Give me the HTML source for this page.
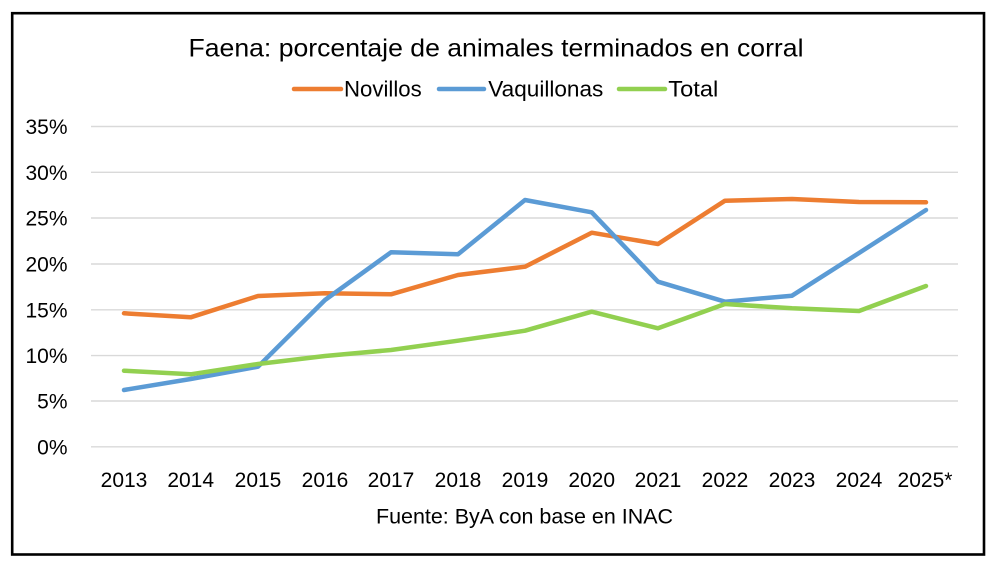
<!DOCTYPE html>
<html>
<head>
<meta charset="utf-8">
<style>
html,body{margin:0;padding:0;background:#fff;}
svg{display:block;}
text{font-family:"Liberation Sans",sans-serif;fill:#000;}
</style>
</head>
<body>
<svg width="1000" height="568" viewBox="0 0 1000 568" xmlns="http://www.w3.org/2000/svg">
<rect x="0" y="0" width="1000" height="568" fill="#fff"/>
<rect x="12.2" y="13.2" width="971.8" height="541.3" fill="#fff" stroke="#000" stroke-width="2.6"/>

<text x="496" y="56.7" font-size="25" text-anchor="middle" textLength="615" lengthAdjust="spacingAndGlyphs">Faena: porcentaje de animales terminados en corral</text>

<g stroke-width="4.5" stroke-linecap="round">
<line x1="294" y1="89" x2="341" y2="89" stroke="#ED7D31"/>
<line x1="439" y1="89" x2="484" y2="89" stroke="#5B9BD5"/>
<line x1="619" y1="89" x2="665" y2="89" stroke="#92D050"/>
</g>
<text x="344" y="96.7" font-size="22" textLength="77.7" lengthAdjust="spacingAndGlyphs">Novillos</text>
<text x="488.3" y="96.7" font-size="22" textLength="115" lengthAdjust="spacingAndGlyphs">Vaquillonas</text>
<text x="668.3" y="96.7" font-size="22" textLength="50" lengthAdjust="spacingAndGlyphs">Total</text>

<g stroke="#D9D9D9" stroke-width="1.4">
<line x1="91" y1="126.5" x2="958" y2="126.5"/>
<line x1="91" y1="172.3" x2="958" y2="172.3"/>
<line x1="91" y1="218" x2="958" y2="218"/>
<line x1="91" y1="264" x2="958" y2="264"/>
<line x1="91" y1="309.8" x2="958" y2="309.8"/>
<line x1="91" y1="355.6" x2="958" y2="355.6"/>
<line x1="91" y1="401" x2="958" y2="401"/>
<line x1="91" y1="446.8" x2="958" y2="446.8"/>
</g>

<g font-size="21" text-anchor="end">
<text x="67.5" y="134">35%</text>
<text x="67.5" y="179.8">30%</text>
<text x="67.5" y="225.5">25%</text>
<text x="67.5" y="271.5">20%</text>
<text x="67.5" y="317.3">15%</text>
<text x="67.5" y="363.1">10%</text>
<text x="67.5" y="408.5">5%</text>
<text x="67.5" y="454.3">0%</text>
</g>

<g font-size="21" text-anchor="middle">
<text x="124" y="487">2013</text>
<text x="190.7" y="487">2014</text>
<text x="258" y="487">2015</text>
<text x="325" y="487">2016</text>
<text x="391" y="487">2017</text>
<text x="458" y="487">2018</text>
<text x="525" y="487">2019</text>
<text x="591.7" y="487">2020</text>
<text x="658" y="487">2021</text>
<text x="725" y="487">2022</text>
<text x="792" y="487">2023</text>
<text x="859" y="487">2024</text>
<text x="925" y="487">2025*</text>
</g>

<g fill="none" stroke-width="4.5" stroke-linecap="round" stroke-linejoin="round">
<polyline stroke="#ED7D31" points="124,313.3 190.7,317.3 258,296 325,293.3 391,294.3 458,275 525,266.7 591.7,232.7 658,244 725,200.7 792,199 859,202 926,202.3"/>
<polyline stroke="#5B9BD5" points="124,390 190.7,379 258,366.7 325,300 391,252.3 458,254.3 525,200 591.7,212.3 658,281.7 725,301.7 792,295.7 859,253 926,210"/>
<polyline stroke="#92D050" points="124,370.7 190.7,374.3 258,364 325,356 391,350 458,340.7 525,330.7 591.7,311.7 658,328.3 725,304 792,308.3 859,311 926,286"/>
</g>

<text x="376" y="523.3" font-size="21" textLength="297" lengthAdjust="spacingAndGlyphs">Fuente: ByA con base en INAC</text>
</svg>
</body>
</html>
